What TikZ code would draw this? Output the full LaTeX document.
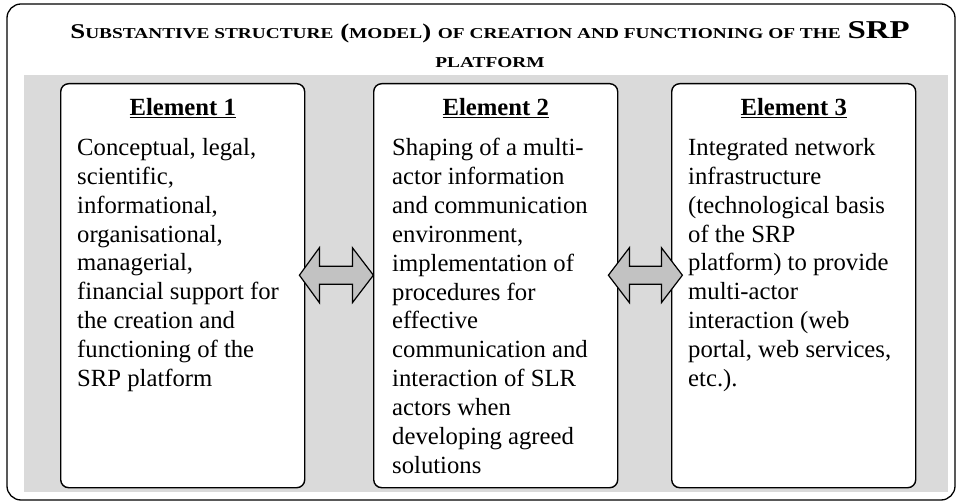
\documentclass[tikz,border=0pt]{standalone}
\usepackage{fontspec}
\setmainfont{Liberation Serif}
\newfontfamily\titlefont[FakeStretch=1.28]{Liberation Serif}
\usetikzlibrary{positioning}
\definecolor{bandgray}{HTML}{DADADA}
\definecolor{arrowgray}{HTML}{C2C2C2}
\newcommand{\smcap}[1]{{\fontsize{15.1}{29}\selectfont #1}}
\newcommand{\fullcap}[1]{{\fontsize{25.7}{29}\selectfont #1}}
\begin{document}
\begin{tikzpicture}[x=1pt,y=-1pt,
		elembox/.style={draw,line width=1.4pt,rounded corners=8pt,fill=white,anchor=north west,minimum width=244pt,minimum height=404pt,inner sep=0pt},
		elemhead/.style={font=\fontsize{24.7}{28.9}\selectfont\bfseries,inner sep=0pt},
		elemtext/.style={font=\fontsize{24.7}{28.9}\selectfont,align=left,inner sep=0pt,anchor=north west},
		dblarrow/.style={draw,line width=1.2pt,fill=arrowgray,line join=miter}]
	\useasboundingbox (0,0) rectangle (958,502);
	\draw[line width=1.3pt,rounded corners=14pt] (7,4) rectangle (955,500);
	\fill[bandgray] (24,75) rectangle (948,492);
	\node[font=\titlefont\fontsize{21}{29}\selectfont\bfseries,align=center,inner sep=0pt,anchor=north] (title) at (490,21) {S\smcap{UBSTANTIVE STRUCTURE} (\smcap{MODEL}) \smcap{OF CREATION AND FUNCTIONING OF THE} \fullcap{SRP}\\ \smcap{PLATFORM}};
	\node[elembox] (box1) at (60,83) {};
	\node[elembox] (box2) at (373,83) {};
	\node[elembox] (box3) at (671,83) {};
	\node[elemhead,below=15pt of box1.north] (head1) {\underline{Element 1}};
	\node[elemhead,below=15pt of box2.north] (head2) {\underline{Element 2}};
	\node[elemhead,below=15pt of box3.north] (head3) {\underline{Element 3}};
	\node[elemtext] (txt1) at ([shift={(17pt,-55pt)}]box1.north west) {Conceptual, legal,\\ scientific,\\ informational,\\ organisational,\\ managerial,\\ financial support for\\ the creation and\\ functioning of the\\ SRP platform};
	\node[elemtext] (txt2) at ([shift={(19pt,-55pt)}]box2.north west) {Shaping of a multi-\\ actor information\\ and communication\\ environment,\\ implementation of\\ procedures for\\ effective\\ communication and\\ interaction of SLR\\ actors when\\ developing agreed\\ solutions};
	\node[elemtext] (txt3) at ([shift={(17pt,-55pt)}]box3.north west) {Integrated network\\ infrastructure\\ (technological basis\\ of the SRP\\ platform) to provide\\ multi-actor\\ interaction (web\\ portal, web services,\\ etc.).};
	\draw[dblarrow] ([shift={(-6pt,10.5pt)}]box1.east) -- ++(20,-27.5) -- ++(0,18.5) -- ++(33,0) -- ++(0,-18.5) -- ++(21,27.5) -- ++(-21,27.5) -- ++(0,-18.5) -- ++(-33,0) -- ++(0,18.5) -- cycle;
	\draw[dblarrow] ([shift={(-10pt,10.5pt)}]box2.east) -- ++(21,-27.5) -- ++(0,18.5) -- ++(32,0) -- ++(0,-18.5) -- ++(21,27.5) -- ++(-21,27.5) -- ++(0,-18.5) -- ++(-32,0) -- ++(0,18.5) -- cycle;
\end{tikzpicture}
\end{document}
